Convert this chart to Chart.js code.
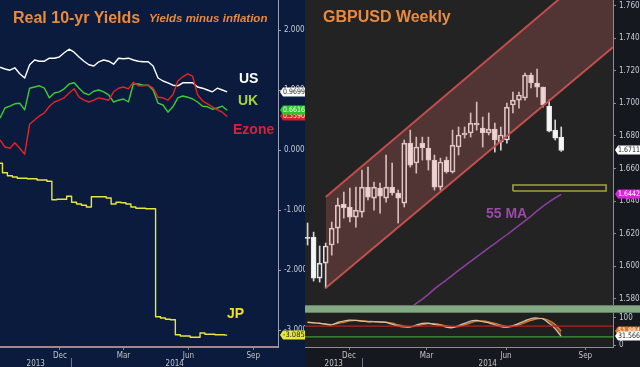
<!DOCTYPE html>
<html>
<head>
<meta charset="utf-8">
<script src="https://cdn.jsdelivr.net/npm/chart.js@4.4.1/dist/chart.umd.min.js"></script>
<style>
html, body { margin: 0; padding: 0; width: 640px; height: 367px; overflow: hidden; background: #000; font-family: "Liberation Sans", Arial, sans-serif; }
#left { position: absolute; left: 0; top: 0; width: 305px; height: 367px; background: #0b1b3d; overflow: hidden; }
#right { position: absolute; left: 305px; top: 0; width: 335px; height: 367px; background: #15181e; overflow: hidden; }
canvas { position: absolute; left: 0; }
.t { position: absolute; font-weight: bold; white-space: nowrap; line-height: 1; }
#band { position: absolute; left: 0; top: 305px; width: 335px; height: 6px; background: #84a883; border-top: 1px solid #5f805e; border-bottom: 1px solid #5f805e; }
</style>
</head>
<body>
<div id="left">
  <canvas id="yields" width="305" height="367" style="top:0"></canvas>
  <div class="t" style="left:13px;top:10px;font-size:16px;color:#ea8a3c">Real 10-yr Yields</div>
  <div class="t" style="left:149px;top:13px;font-size:11.5px;font-style:italic;color:#ea8a3c">Yields minus inflation</div>
  <div class="t" style="left:239px;top:71px;font-size:14px;color:#ffffff">US</div>
  <div class="t" style="left:238px;top:93px;font-size:14px;color:#a8d43a">UK</div>
  <div class="t" style="left:233px;top:122px;font-size:14px;color:#d8203c">Ezone</div>
  <div class="t" style="left:227px;top:306px;font-size:14px;color:#f0e020">JP</div>
</div>
<div id="right">
  <canvas id="gbp" width="335" height="313" style="top:0"></canvas>
  <div id="band"></div>
  <canvas id="stoch" width="335" height="54" style="top:313px"></canvas>
  <div class="t" style="left:18px;top:9px;font-size:16px;color:#ea8a3c">GBPUSD Weekly</div>
  <div class="t" style="left:181px;top:206px;font-size:14px;color:#9a4aa8">55 MA</div>
</div>
<script>
// real 10-yr yields (yield minus inflation), weekly from yieldStart
var yieldStart = '2013-09-07';
var usYield = [1.38, 1.35, 1.33, 1.37, 1.27, 1.20, 1.42, 1.50, 1.48, 1.48, 1.53, 1.53, 1.55, 1.62, 1.68, 1.63,
    1.55, 1.48, 1.42, 1.40, 1.47, 1.50, 1.48, 1.43, 1.53, 1.52, 1.53, 1.50, 1.48, 1.47, 1.47, 1.40,
    1.20, 1.15, 1.12, 1.08, 1.07, 1.12, 1.12, 1.12, 1.05, 1.03, 1.00, 0.97, 1.03, 1.00, 0.9699];
var ukYield = [0.53, 0.70, 0.73, 0.77, 0.78, 0.67, 1.03, 1.05, 1.07, 1.03, 0.87, 0.95, 0.97, 1.02, 1.10, 1.12,
    1.03, 0.95, 0.92, 0.98, 1.00, 0.97, 0.92, 0.80, 0.83, 0.85, 0.80, 1.10, 1.10, 1.08, 1.08, 1.00,
    0.78, 0.75, 0.63, 0.72, 0.87, 0.90, 0.88, 0.85, 0.80, 0.73, 0.72, 0.68, 0.70, 0.73, 0.6616];
var ezYield = [0.17, 0.05, 0.03, 0.12, 0.03, -0.07, 0.43, 0.50, 0.57, 0.62, 0.73, 0.80, 0.83, 0.87, 0.95, 1.02,
    0.88, 0.83, 0.80, 0.83, 0.87, 0.85, 0.83, 0.97, 1.03, 1.05, 1.02, 1.13, 1.07, 1.07, 1.08, 1.03,
    0.88, 0.87, 0.83, 0.92, 1.15, 1.22, 1.27, 1.23, 0.92, 0.82, 0.77, 0.72, 0.67, 0.63, 0.559];
var jpYield = [-0.22, -0.38, -0.43, -0.45, -0.47, -0.47, -0.48, -0.48, -0.50, -0.50, -0.52, -0.83, -0.82, -0.82, -0.77, -0.87,
    -0.90, -0.92, -0.95, -0.78, -0.78, -0.78, -0.80, -0.90, -0.87, -0.88, -0.90, -0.95, -0.97, -0.97, -0.98, -0.98,
    -2.78, -2.80, -2.82, -2.83, -3.08, -3.10, -3.10, -3.12, -3.12, -3.05, -3.07, -3.07, -3.08, -3.08, -3.085];
var yieldTicks = [2, 1, 0, -1, -2, -3];

// shared time axis labels
var monthTicks = ['2013-10-01', '2013-11-01', '2013-12-01', '2014-01-01', '2014-02-01', '2014-03-01', '2014-04-01',
    '2014-05-01', '2014-06-01', '2014-07-01', '2014-08-01', '2014-09-01', '2014-10-01'];
var monthNames = ['', '', 'Dec', '', '', 'Mar', '', '', 'Jun', '', '', 'Sep', ''];
var yearNames = ['2013', '2014'];
var yearBreak = '2013-12-16';

// GBPUSD weekly candles from candleStart
var candleStart = '2013-10-14';
var gbpOpen = [1.6177, 1.6180, 1.5928, 1.6020, 1.6131, 1.6235, 1.6382, 1.6364, 1.6302, 1.6333, 1.6486, 1.6419, 1.6480, 1.6419, 1.6486,
    1.6450, 1.6388, 1.6756, 1.6634, 1.6756, 1.6726, 1.6652, 1.6486, 1.6652, 1.6579, 1.6732, 1.6806, 1.6818, 1.6879, 1.6849,
    1.6818, 1.6842, 1.6763, 1.6775, 1.6990, 1.7020, 1.7033, 1.7174, 1.7125, 1.7100, 1.6983, 1.6836, 1.6793];
var gbpHigh = [1.6266, 1.6210, 1.6125, 1.6143, 1.6272, 1.6419, 1.6456, 1.6480, 1.6486, 1.6591, 1.6609, 1.6517, 1.6511, 1.6683, 1.6634,
    1.6468, 1.6775, 1.6836, 1.6793, 1.6793, 1.6793, 1.6683, 1.6664, 1.6671, 1.6836, 1.6855, 1.6855, 1.6941, 1.7008, 1.6916,
    1.6941, 1.6879, 1.6855, 1.7002, 1.7069, 1.7069, 1.7186, 1.7186, 1.7210, 1.7100, 1.7020, 1.6898, 1.6855];
var gbpLow = [1.6131, 1.5910, 1.5904, 1.5867, 1.6069, 1.6143, 1.6296, 1.6272, 1.6241, 1.6302, 1.6407, 1.6345, 1.6327, 1.6394, 1.6437,
    1.6266, 1.6364, 1.6609, 1.6572, 1.6652, 1.6591, 1.6468, 1.6468, 1.6572, 1.6572, 1.6683, 1.6787, 1.6793, 1.6836, 1.6732,
    1.6806, 1.6701, 1.6713, 1.6756, 1.6941, 1.6971, 1.7020, 1.7094, 1.7039, 1.6977, 1.6824, 1.6775, 1.6705];
var gbpClose = [1.6172, 1.5928, 1.6020, 1.6125, 1.6235, 1.6376, 1.6358, 1.6302, 1.6345, 1.6486, 1.6425, 1.6486, 1.6431, 1.6486, 1.6450,
    1.6419, 1.6756, 1.6621, 1.6732, 1.6726, 1.6652, 1.6486, 1.6640, 1.6579, 1.6744, 1.6806, 1.6818, 1.6879, 1.6867, 1.6818,
    1.6842, 1.6775, 1.6806, 1.6977, 1.7020, 1.7051, 1.7174, 1.7125, 1.7100, 1.6990, 1.6830, 1.6787, 1.6711];
var ma55 = [null, null, null, null, null, null, null, null, null, null, null, null, null, null,
    1.5652, 1.5683, 1.5713, 1.5744, 1.5773, 1.5799, 1.5828, 1.5862, 1.5890, 1.5917, 1.5946, 1.5975, 1.6003, 1.6031, 1.6058,
    1.6086, 1.6113, 1.6139, 1.6168, 1.6194, 1.6222, 1.6251, 1.6279, 1.6308, 1.6340, 1.6369, 1.6396, 1.6420, 1.6442];
var channelDates = ['2013-11-04', '2014-10-03'];
var channelTop = [1.6425, 1.7920];
var channelBottom = [1.5867, 1.7344];
var boxDates = ['2014-06-09', '2014-09-25'];
var boxPrices = [1.6462, 1.6499];
var priceTicks = [1.58, 1.60, 1.62, 1.64, 1.66, 1.68, 1.70, 1.72, 1.74, 1.76];

// slow stochastic under the price
var stochK = [84, 82, 80, 77, 74, 84, 89, 92, 91, 88, 86, 86, 85, 84, 77, 70, 67, 67, 74, 80, 81, 76, 73, 66, 64,
    72, 80, 89, 91, 86, 82, 74, 68, 66, 72, 80, 90, 98, 100, 96, 80, 60, 31.566];
var stochD = [85, 83, 81, 78, 76, 79, 84, 89, 91, 90, 88, 87, 86, 85, 81, 75, 70, 68, 70, 75, 79, 79, 76, 71, 67,
    68, 74, 82, 88, 89, 86, 80, 74, 69, 69, 74, 83, 91, 97, 98, 91, 76, 51.884];
var stochLevels = [70, 30];
var stochTicks = [0, 100];

var DAY = 86400000;
function dayNum(s) { return Date.parse(s + 'T00:00:00Z') / DAY; }
function last(a) { return a[a.length - 1]; }

var tickFont = { family: '"Liberation Sans Narrow", "DejaVu Sans Condensed", sans-serif', size: 8 };
Chart.defaults.animation = false;
Chart.defaults.font.family = tickFont.family;

// value tags at the right edge, like the terminal does
var tagPlugin = {
    id: 'tags',
    afterDraw: function (chart, args, opts) {
        var ctx = chart.ctx, y = chart.scales.y, x0 = y.left + 2;
        ctx.save();
        ctx.font = '7.5px ' + tickFont.family;
        ctx.textBaseline = 'middle';
        opts.items.forEach(function (t) {
            var py = Math.round(y.getPixelForValue(t.value)), h = 9;
            ctx.fillStyle = t.bg;
            ctx.beginPath();
            ctx.moveTo(x0, py);
            ctx.lineTo(x0 + 3, py - h / 2);
            ctx.lineTo(chart.width, py - h / 2);
            ctx.lineTo(chart.width, py + h / 2);
            ctx.lineTo(x0 + 3, py + h / 2);
            ctx.closePath();
            ctx.fill();
            ctx.fillStyle = t.fg;
            ctx.fillText(t.text, x0 + 3, py + 0.5, chart.width - x0 - 3);
        });
        ctx.restore();
    }
};

var panelPlugin = {
    id: 'panel',
    beforeDraw: function (chart, args, opts) {
        if (!opts.area) return;
        var a = chart.chartArea;
        chart.ctx.fillStyle = opts.area;
        chart.ctx.fillRect(a.left, a.top, a.right - a.left, a.bottom - a.top);
    },
    afterDraw: function (chart, args, opts) {
        if (!opts.years) return;
        var ctx = chart.ctx, a = chart.chartArea;
        var b = Math.round(chart.scales.x.getPixelForValue(dayNum(yearBreak))) + 0.5;
        ctx.save();
        ctx.strokeStyle = '#6c7482';
        ctx.beginPath();
        ctx.moveTo(b, chart.height - 9);
        ctx.lineTo(b, chart.height);
        ctx.stroke();
        ctx.fillStyle = '#c4c4c4';
        ctx.font = '8px ' + tickFont.family;
        ctx.textAlign = 'center';
        ctx.fillText(yearNames[0], (a.left + b) / 2, chart.height - 1);
        ctx.fillText(yearNames[1], (b + a.right) / 2, chart.height - 1);
        ctx.restore();
    }
};

function timeAxis(from, to, lineColor, lineWidth) {
    var monthVals = monthTicks.map(dayNum);
    return {
        type: 'linear', min: dayNum(from), max: dayNum(to), offset: false,
        afterBuildTicks: function (s) {
            s.ticks = monthVals.filter(function (v) { return v >= s.min && v <= s.max; })
                .map(function (v) { return { value: v }; });
        },
        afterFit: function (s) { s.height = 20; s.paddingLeft = 0; s.paddingRight = 0; },
        ticks: {
            autoSkip: false, maxRotation: 0, padding: 1, color: '#c4c4c4', font: tickFont,
            callback: function (v) { return monthNames[monthVals.indexOf(v)] || null; }
        },
        grid: { display: true, offset: false, drawOnChartArea: false, drawTicks: true, tickLength: 3, color: '#8a8a8a' },
        border: { display: true, color: lineColor, width: lineWidth }
    };
}

// labelled ticks plus an unlabelled one half way between each pair
function valueAxis(min, max, labelled, fmt, lineColor) {
    var all = labelled.slice();
    for (var i = 0; i < labelled.length - 1; i++) all.push((labelled[i] + labelled[i + 1]) / 2);
    return {
        type: 'linear', position: 'right', min: min, max: max,
        afterBuildTicks: function (s) {
            s.ticks = all.slice().sort(function (a, b) { return a - b; }).map(function (v) { return { value: v }; });
        },
        // fixed width, and no extra room kept for the end labels
        afterFit: function (s) { s.width = 27; s.paddingTop = 0; s.paddingBottom = 0; },
        ticks: {
            autoSkip: false, padding: 3, color: '#c8ccd4', font: tickFont,
            callback: function (v) { return labelled.indexOf(v) >= 0 ? fmt(v) : null; }
        },
        grid: { display: true, drawOnChartArea: false, drawTicks: true, tickLength: 3, color: lineColor },
        border: { display: true, color: lineColor }
    };
}

function yieldFmt(v) { return v < 0 ? v.toFixed(3) : v.toFixed(4); }
function priceFmt(v) { return v.toFixed(4); }

// ---- left: real yields ----
var yieldX = usYield.map(function (_, i) { return dayNum(yieldStart) + 7 * i; });
function yieldLine(label, vals, color, stepped) {
    return {
        label: label,
        data: vals.map(function (v, i) { return { x: yieldX[i], y: v }; }),
        borderColor: color, borderWidth: 1.4, pointRadius: 0, fill: false,
        stepped: stepped || false, borderJoinStyle: 'round'
    };
}

new Chart(document.getElementById('yields'), {
    type: 'line',
    data: {
        datasets: [
            yieldLine('JP', jpYield, '#e8e63a', 'middle'),
            yieldLine('Ezone', ezYield, '#e42424'),
            yieldLine('UK', ukYield, '#3ccc34'),
            yieldLine('US', usYield, '#ffffff')
        ]
    },
    options: {
        responsive: false, maintainAspectRatio: false,
        layout: { padding: 0 },
        plugins: {
            legend: { display: false }, tooltip: { enabled: false },
            panel: { years: true },
            tags: {
                items: [
                    { value: last(ezYield), text: yieldFmt(last(ezYield)), bg: '#d42020', fg: '#ffffff' },
                    { value: last(ukYield), text: yieldFmt(last(ukYield)), bg: '#2ec42e', fg: '#ffffff' },
                    { value: last(usYield), text: yieldFmt(last(usYield)), bg: '#ffffff', fg: '#222222' },
                    { value: last(jpYield), text: yieldFmt(last(jpYield)), bg: '#e8e838', fg: '#222222' }
                ]
            }
        },
        scales: {
            x: timeAxis('2013-09-07', '2014-10-06', '#a4848e', 2),
            y: valueAxis(-3.283, 2.5, yieldTicks, yieldFmt, '#9aa2b4')
        }
    },
    plugins: [panelPlugin, tagPlugin]
});

// ---- right: GBPUSD weekly ----
var cx = gbpOpen.map(function (_, i) { return dayNum(candleStart) + 7 * i; });
function isDown(i) { return gbpClose[i] < gbpOpen[i]; }

new Chart(document.getElementById('gbp'), {
    type: 'line',
    data: {
        datasets: [
            {
                label: '55 MA', order: 0,
                data: cx.map(function (x, i) { return { x: x, y: ma55[i] }; }),
                borderColor: '#8e3fa2', borderWidth: 1.5, pointRadius: 0, fill: false
            },
            {
                label: 'zone', order: 0,
                data: [
                    { x: dayNum(boxDates[0]), y: boxPrices[0] }, { x: dayNum(boxDates[1]), y: boxPrices[0] },
                    { x: dayNum(boxDates[1]), y: boxPrices[1] }, { x: dayNum(boxDates[0]), y: boxPrices[1] },
                    { x: dayNum(boxDates[0]), y: boxPrices[0] }
                ],
                borderColor: '#a6a43a', borderWidth: 1.5, pointRadius: 0, fill: false
            },
            {
                label: 'channel top', order: 1,
                data: channelDates.map(function (d, i) { return { x: dayNum(d), y: channelTop[i] }; }),
                borderColor: '#c24c4c', borderWidth: 2, pointRadius: 0,
                fill: '+1', backgroundColor: 'rgba(218,104,104,0.26)'
            },
            {
                label: 'channel bottom', order: 1,
                data: channelDates.map(function (d, i) { return { x: dayNum(d), y: channelBottom[i] }; }),
                borderColor: '#c24c4c', borderWidth: 2, pointRadius: 0, fill: false
            },
            {
                type: 'bar', label: 'body', order: 2, grouped: false,
                data: cx.map(function (x, i) { return { x: x, y: [gbpOpen[i], gbpClose[i]] }; }),
                barThickness: 5, minBarLength: 1, borderWidth: 1, borderSkipped: false,
                borderColor: '#e4e4e4',
                backgroundColor: function (c) { return isDown(c.dataIndex) ? '#f6f6f6' : 'rgba(0,0,0,0)'; }
            },
            {
                type: 'bar', label: 'upper wick', order: 3, grouped: false,
                data: cx.map(function (x, i) { return { x: x, y: [Math.max(gbpOpen[i], gbpClose[i]), gbpHigh[i]] }; }),
                barThickness: 1, backgroundColor: '#d6d6d6'
            },
            {
                type: 'bar', label: 'lower wick', order: 3, grouped: false,
                data: cx.map(function (x, i) { return { x: x, y: [gbpLow[i], Math.min(gbpOpen[i], gbpClose[i])] }; }),
                barThickness: 1, backgroundColor: '#d6d6d6'
            }
        ]
    },
    options: {
        responsive: false, maintainAspectRatio: false,
        layout: { padding: 0 },
        plugins: {
            legend: { display: false }, tooltip: { enabled: false },
            panel: { area: '#232323' },
            tags: {
                items: [
                    { value: last(ma55), text: priceFmt(last(ma55)), bg: '#e020e0', fg: '#ffffff' },
                    { value: last(gbpClose), text: priceFmt(last(gbpClose)), bg: '#ffffff', fg: '#222222' }
                ]
            }
        },
        scales: {
            x: {
                type: 'linear', min: dayNum('2013-10-11'), max: dayNum('2014-10-03'), offset: false,
                afterFit: function (s) { s.height = 8; s.paddingLeft = 0; s.paddingRight = 0; },
                ticks: { display: false }, grid: { display: false, offset: false }, border: { display: false }
            },
            y: valueAxis(1.5763, 1.7634, priceTicks, priceFmt, '#8a8e96')
        }
    },
    plugins: [panelPlugin, tagPlugin]
});

// ---- stochastic ----
var stochMin = dayNum('2013-10-11'), stochMax = dayNum('2014-10-03');
new Chart(document.getElementById('stoch'), {
    type: 'line',
    data: {
        datasets: [
            {
                label: 'upper', data: [{ x: stochMin, y: stochLevels[0] }, { x: stochMax, y: stochLevels[0] }],
                borderColor: '#b42222', borderWidth: 1.2, pointRadius: 0, fill: false
            },
            {
                label: 'lower', data: [{ x: stochMin, y: stochLevels[1] }, { x: stochMax, y: stochLevels[1] }],
                borderColor: '#3c9c38', borderWidth: 1.2, pointRadius: 0, fill: false
            },
            {
                label: '%K', data: cx.map(function (x, i) { return { x: x, y: stochK[i] }; }),
                borderColor: '#d8c6ae', borderWidth: 1.2, pointRadius: 0, fill: false, tension: 0.3
            },
            {
                label: '%D', data: cx.map(function (x, i) { return { x: x, y: stochD[i] }; }),
                borderColor: '#e07a2a', borderWidth: 1.2, pointRadius: 0, tension: 0.3,
                fill: '-1', backgroundColor: 'rgba(214,130,70,0.55)'
            }
        ]
    },
    options: {
        responsive: false, maintainAspectRatio: false,
        layout: { padding: 0 },
        plugins: {
            legend: { display: false }, tooltip: { enabled: false },
            panel: { area: '#1f1f1f', years: true },
            tags: {
                items: [
                    { value: last(stochD), text: last(stochD).toFixed(3), bg: '#e07a22', fg: '#ffffff' },
                    { value: last(stochK), text: last(stochK).toFixed(3), bg: '#ffffff', fg: '#222222' }
                ]
            }
        },
        scales: {
            x: timeAxis('2013-10-11', '2014-10-03', '#8a8e96', 1),
            y: valueAxis(-7.4, 118.5, stochTicks, function (v) { return String(v); }, '#8a8e96')
        }
    },
    plugins: [panelPlugin, tagPlugin]
});
</script>
</body>
</html>
